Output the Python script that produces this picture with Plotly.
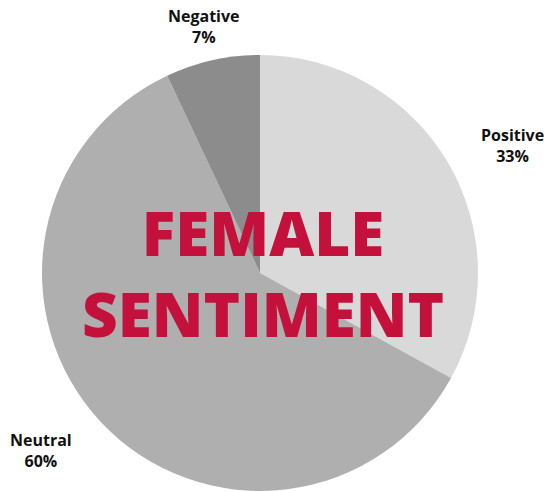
import plotly.graph_objects as go

labels = ["Positive", "Neutral", "Negative"]
values = [33, 60, 7]
colors = ["#d9d9d9", "#afafaf", "#8c8c8c"]

# label anchor points (pixels from top-left)
label_pos = {
    "Positive": (512, 145),
    "Neutral": (41, 450),
    "Negative": (204, 27),
}

W, H = 547, 491

fig = go.Figure()

fig.add_trace(
    go.Pie(
        labels=labels,
        values=values,
        marker=dict(colors=colors, line=dict(width=0)),
        sort=False,
        direction="clockwise",
        rotation=0,
        textinfo="none",
        hoverinfo="label+percent",
        showlegend=False,
        domain=dict(x=[42 / W, 478 / W], y=[0, 436 / H]),
    )
)

for lab, val in zip(labels, values):
    px, py = label_pos[lab]
    fig.add_annotation(
        x=px / W, y=1 - py / H, xref="paper", yref="paper",
        text=f"<b>{lab}<br>{val}%</b>",
        showarrow=False,
        font=dict(family="Open Sans", size=16, color="#111111"),
        xanchor="center", yanchor="middle", align="center",
    )

fig.add_annotation(
    x=263 / W, y=1 - 272 / H, xref="paper", yref="paper",
    text="FEMALE<br>SENTIMENT",
    showarrow=False,
    font=dict(family="Open Sans", size=62, color="#c4113c", weight=800),
    xanchor="center", yanchor="middle", align="center",
)

fig.update_layout(
    width=W,
    height=H,
    margin=dict(l=0, r=0, t=0, b=0),
    paper_bgcolor="white",
    plot_bgcolor="white",
)

fig.write_html(
    "out.html",
    config={"displayModeBar": False},
    post_script="document.body.style.margin='0';",
)
